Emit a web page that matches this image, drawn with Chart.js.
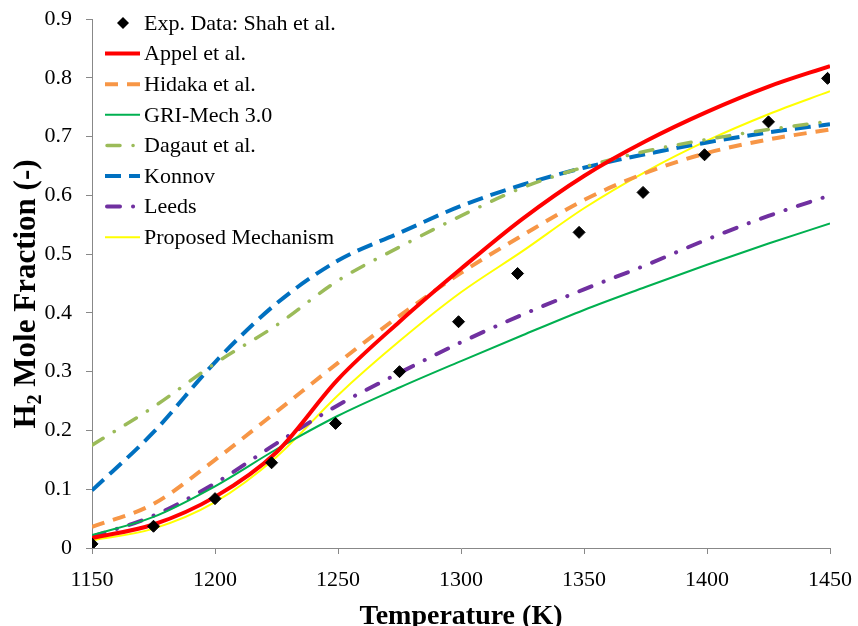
<!DOCTYPE html>
<html>
<head>
<meta charset="utf-8">
<script src="https://cdn.jsdelivr.net/npm/chart.js@4/dist/chart.umd.min.js"></script>
<style>
  html, body { margin: 0; padding: 0; background: #fff; overflow: hidden; }
  canvas { display: block; }
</style>
</head>
<body>
<canvas id="chart" width="858" height="626"></canvas>
<script>
// temperatures (K)
const modelTemps = [1150, 1175, 1200, 1225, 1250, 1275, 1300, 1325, 1350, 1375, 1400, 1425, 1450];
const expTemps = [1150, 1175, 1200, 1223, 1249, 1275, 1299, 1323, 1348, 1374, 1399, 1425, 1449];

// H2 mole fraction
const expShah = [0.007, 0.037, 0.084, 0.145, 0.212, 0.300, 0.385, 0.467, 0.537, 0.605, 0.669, 0.725, 0.799];
const appel = [0.017, 0.040, 0.087, 0.163, 0.287, 0.385, 0.475, 0.560, 0.633, 0.692, 0.742, 0.785, 0.820];
const hidaka = [0.036, 0.075, 0.150, 0.232, 0.315, 0.395, 0.468, 0.532, 0.592, 0.638, 0.672, 0.695, 0.712];
const griMech = [0.022, 0.053, 0.105, 0.168, 0.225, 0.273, 0.318, 0.362, 0.405, 0.444, 0.482, 0.518, 0.552];
const dagaut = [0.175, 0.240, 0.314, 0.379, 0.455, 0.512, 0.565, 0.613, 0.648, 0.675, 0.695, 0.712, 0.726];
const konnov = [0.098, 0.197, 0.316, 0.416, 0.489, 0.536, 0.582, 0.618, 0.647, 0.670, 0.690, 0.707, 0.721];
const leeds = [0.019, 0.055, 0.110, 0.178, 0.243, 0.298, 0.350, 0.397, 0.440, 0.481, 0.525, 0.565, 0.600];
const proposed = [0.013, 0.033, 0.078, 0.155, 0.260, 0.352, 0.435, 0.505, 0.578, 0.640, 0.693, 0.738, 0.777];

const seriesNames = ['Exp. Data: Shah et al.', 'Appel et al.', 'Hidaka et al.', 'GRI-Mech 3.0',
    'Dagaut et al.', 'Konnov', 'Leeds', 'Proposed Mechanism'];

const FONT = '"Liberation Serif", "Times New Roman", serif';

const pts = (xs, ys) => xs.map((x, i) => ({ x: x, y: ys[i] }));

function curve(label, values, color, width, dash, cap) {
    return {
        label: label,
        data: pts(modelTemps, values),
        showLine: true,
        borderColor: color,
        backgroundColor: color,
        borderWidth: width,
        borderDash: dash || [],
        borderCapStyle: cap || 'butt',
        pointRadius: 0,
        pointHoverRadius: 0,
        cubicInterpolationMode: 'monotone',
        fill: false
    };
}

const datasets = [
    {
        label: seriesNames[0],
        data: pts(expTemps, expShah),
        showLine: false,
        pointStyle: 'rectRot',
        pointRadius: 6,
        pointBackgroundColor: '#000',
        pointBorderColor: '#000',
        borderColor: '#000',
        backgroundColor: '#000'
    },
    curve(seriesNames[1], appel, '#FF0000', 4),
    curve(seriesNames[2], hidaka, '#F79646', 4, [13, 9]),
    curve(seriesNames[3], griMech, '#00B050', 2),
    curve(seriesNames[4], dagaut, '#9BBB59', 3.5, [13, 13, 0.1, 13], 'round'),
    curve(seriesNames[5], konnov, '#0070C0', 4, [16, 8]),
    curve(seriesNames[6], leeds, '#7030A0', 4, [13, 13, 0.1, 13], 'round'),
    curve(seriesNames[7], proposed, '#FFFF00', 2)
];

// legend drawn inside the plot, top left
const insideLegend = {
    id: 'insideLegend',
    afterDraw(chart) {
        const ctx = chart.ctx;
        ctx.save();
        ctx.font = '22px ' + FONT;
        ctx.textBaseline = 'middle';
        chart.data.datasets.forEach((ds, i) => {
            const y = 23 + i * 30.6;
            if (ds.showLine === false) {
                ctx.fillStyle = '#000';
                ctx.beginPath();
                ctx.moveTo(123, y - 6);
                ctx.lineTo(129, y);
                ctx.lineTo(123, y + 6);
                ctx.lineTo(117, y);
                ctx.closePath();
                ctx.fill();
            } else {
                ctx.strokeStyle = ds.borderColor;
                ctx.lineWidth = ds.borderWidth;
                ctx.lineCap = ds.borderCapStyle;
                ctx.setLineDash(ds.borderDash);
                ctx.beginPath();
                ctx.moveTo(ds.borderCapStyle === 'round' ? 107 : 105, y);
                ctx.lineTo(140, y);
                ctx.stroke();
                ctx.setLineDash([]);
            }
            ctx.fillStyle = '#000';
            ctx.fillText(ds.label, 144, y + 1);
        });
        ctx.restore();
    }
};

// y title with subscript
const yTitle = {
    id: 'yTitle',
    afterDraw(chart) {
        const ctx = chart.ctx;
        ctx.save();
        ctx.translate(24, 294);
        ctx.rotate(-Math.PI / 2);
        ctx.fillStyle = '#000';
        ctx.textBaseline = 'alphabetic';
        const big = 'bold 31px ' + FONT;
        const small = 'bold 20px ' + FONT;
        ctx.font = big;
        const wH = ctx.measureText('H').width;
        const rest = ' Mole Fraction (-)';
        const wR = ctx.measureText(rest).width;
        ctx.font = small;
        const w2 = ctx.measureText('2').width;
        const x0 = -(wH + w2 + wR) / 2;
        ctx.font = big;
        ctx.fillText('H', x0, 11);
        ctx.font = small;
        ctx.fillText('2', x0 + wH, 17);
        ctx.font = big;
        ctx.fillText(rest, x0 + wH + w2, 11);
        ctx.restore();
    }
};

new Chart(document.getElementById('chart'), {
    type: 'scatter',
    data: { datasets: datasets },
    options: {
        responsive: false,
        animation: false,
        devicePixelRatio: 1,
        layout: { padding: { top: 19, right: 28, left: 0, bottom: 0 } },
        plugins: {
            legend: { display: false },
            tooltip: { enabled: false }
        },
        scales: {
            x: {
                type: 'linear',
                min: 1150,
                max: 1450,
                afterFit: (s) => { s.height = 78; s.paddingLeft = 0; s.paddingRight = 0; },
                ticks: {
                    stepSize: 50,
                    color: '#000',
                    padding: 13,
                    font: { family: FONT, size: 22 },
                    callback: (v) => String(v)
                },
                grid: { display: true, drawOnChartArea: false, drawTicks: true, tickLength: 6, color: '#888' },
                border: { color: '#888', width: 1 },
                title: {
                    display: true,
                    text: 'Temperature (K)',
                    color: '#000',
                    padding: { top: 0, bottom: -8 },
                    font: { family: FONT, size: 28, weight: 'bold' }
                }
            },
            y: {
                min: 0,
                max: 0.9,
                afterFit: (s) => { s.width = 92; s.paddingTop = 0; s.paddingBottom = 0; },
                ticks: {
                    stepSize: 0.1,
                    color: '#000',
                    padding: 14,
                    font: { family: FONT, size: 22 },
                    callback: (v) => String(+v.toFixed(1))
                },
                grid: { display: true, drawOnChartArea: false, drawTicks: true, tickLength: 6, color: '#888' },
                border: { color: '#888', width: 1 }
            }
        }
    },
    plugins: [insideLegend, yTitle]
});
</script>
</body>
</html>
